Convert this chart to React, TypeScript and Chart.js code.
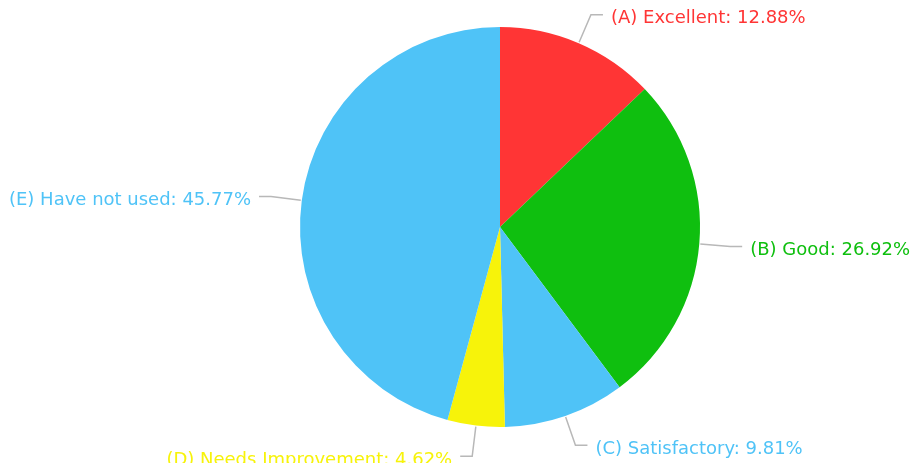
import React, { useEffect, useRef } from "react";
import { Chart, registerables } from "chart.js";

Chart.register(...registerables);

const categories = [
  "(A) Excellent",
  "(B) Good",
  "(C) Satisfactory",
  "(D) Needs Improvement",
  "(E) Have not used",
];
const values = [12.88, 26.92, 9.81, 4.62, 45.77];
const colors = ["#FF3535", "#0FBF0F", "#4FC3F7", "#F7F30A", "#4FC3F7"];

const labelPlugin = {
  id: "leaderLabels",
  afterDatasetsDraw(chart: any) {
    const ctx = chart.ctx;
    const meta = chart.getDatasetMeta(0);
    ctx.save();
    ctx.font = "18px 'DejaVu Sans', Verdana, sans-serif";
    ctx.textBaseline = "middle";
    meta.data.forEach((arc: any, i: number) => {
      const { x, y, startAngle, endAngle, outerRadius } = arc.getProps(
        ["x", "y", "startAngle", "endAngle", "outerRadius"],
        true
      );
      const mid = (startAngle + endAngle) / 2;
      const dx = Math.cos(mid);
      const dy = Math.sin(mid);
      const p1x = x + dx * (outerRadius + 1);
      const p1y = y + dy * (outerRadius + 1);
      const p2x = x + dx * (outerRadius + 31);
      const p2y = y + dy * (outerRadius + 31);
      const right = dx >= 0;
      const p3x = p2x + (right ? 12 : -12);
      ctx.strokeStyle = "#b8b8b8";
      ctx.lineWidth = 1.5;
      ctx.beginPath();
      ctx.moveTo(p1x, p1y);
      ctx.lineTo(p2x, p2y);
      ctx.lineTo(p3x, p2y);
      ctx.stroke();
      ctx.fillStyle = colors[i];
      ctx.textAlign = right ? "left" : "right";
      const text = categories[i] + ": " + values[i].toFixed(2) + "%";
      ctx.fillText(text, p3x + (right ? 8 : -8), p2y + 4);
    });
    ctx.restore();
  },
};

export default function App() {
  const ref = useRef<HTMLCanvasElement>(null);
  useEffect(() => {
    if (!ref.current) return;
    const chart = new Chart(ref.current, {
      type: "pie",
      data: {
        labels: categories,
        datasets: [
          {
            data: values,
            backgroundColor: colors,
            borderWidth: 0,
          },
        ],
      },
      options: {
        responsive: false,
        animation: false,
        layout: { padding: { left: 300, right: 215, top: 27, bottom: 36 } },
        plugins: {
          legend: { display: false },
          tooltip: { enabled: false },
        },
      },
      plugins: [labelPlugin],
    });
    return () => chart.destroy();
  }, []);
  return (
    <div style={{ position: "absolute", left: 0, top: 0, width: 915, height: 470, background: "#fff" }}>
      <canvas ref={ref} width={915} height={463} style={{ display: "block" }} />
    </div>
  );
}
